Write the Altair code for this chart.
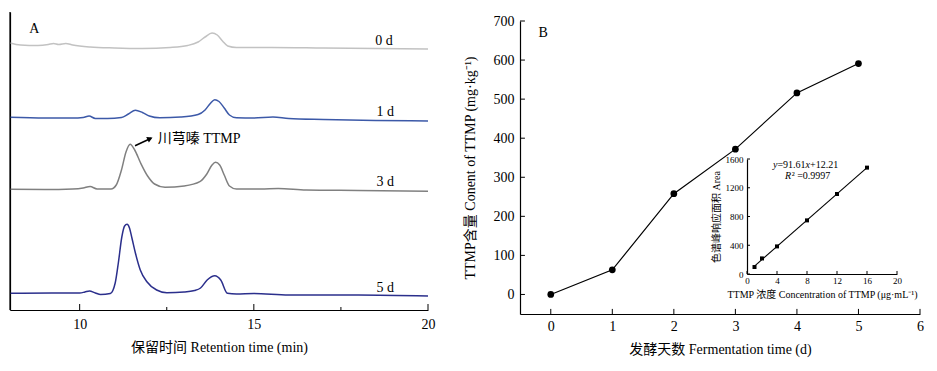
import altair as alt
import pandas as pd

FONT = "Liberation Serif, Noto Sans CJK SC"

# ---------------- Panel A: chromatograms ----------------
t_0d = [8.0, 8.3, 8.8, 9.1, 9.25, 9.4, 9.6, 9.8, 10.3, 11.0, 11.8, 12.6, 13.1, 13.4, 13.6, 13.8, 13.95, 14.1, 14.25, 14.5, 15.5, 17.0, 18.5, 20.0]
s_0d = [267, 265, 264.5, 265.5, 266.5, 265.5, 266.5, 265, 263, 262, 261.5, 262.5, 264.5, 268, 273, 277, 275, 269, 264, 262.5, 262.5, 262, 261.5, 261]

t_1d = [8.0, 9.0, 9.8, 10.1, 10.27, 10.45, 10.8, 11.2, 11.4, 11.6, 11.8, 12.0, 12.3, 12.9, 13.4, 13.6, 13.75, 13.88, 14.0, 14.15, 14.3, 14.5, 15.0, 15.55, 16.0, 17.0, 18.5, 20.0]
s_1d = [192.7, 192, 192, 192.5, 194, 191.5, 191.5, 192.5, 196, 199.7, 197.5, 194, 192.2, 193, 195.5, 200, 206.5, 210.3, 208.5, 202, 195, 192.2, 192, 193, 191.5, 190.5, 189.5, 189]

t_3d = [8.0, 9.0, 9.8, 10.1, 10.3, 10.5, 10.9, 11.05, 11.2, 11.33, 11.45, 11.58, 11.75, 11.95, 12.15, 12.45, 13.0, 13.45, 13.65, 13.8, 13.9, 14.02, 14.15, 14.3, 14.5, 15.2, 15.7, 16.5, 18.0, 20.0]
s_3d = [120.7, 120.5, 121, 122, 123.5, 121, 121, 125, 140, 158, 165.7, 160, 147, 134, 126, 122.7, 124, 128.3, 136, 145, 147.7, 145, 135, 124, 121, 121, 121.5, 120, 119.5, 118.7]

t_5d = [8.0, 9.2, 10.0, 10.15, 10.28, 10.45, 10.6, 10.88, 11.02, 11.11, 11.21, 11.29, 11.36, 11.43, 11.5, 11.6, 11.74, 11.93, 12.21, 12.5, 13.0, 13.3, 13.47, 13.66, 13.88, 14.05, 14.24, 14.5, 15.0, 16.0, 18.0, 20.0]
s_5d = [16.7, 17, 17, 18, 19, 17, 15.5, 16.5, 27, 47, 73, 84, 85.7, 82, 72, 57, 40, 28.3, 20, 17.3, 18, 19.5, 22, 30, 34.3, 30, 16.7, 16, 16.5, 15, 15, 14]

trace_names = ["0 d", "1 d", "3 d", "5 d"]
trace_colors = ["#c2c2c2", "#3c59a8", "#808080", "#2b2f8c"]
trace_label_t = [18.74, 18.77, 18.77, 18.77]
trace_label_s = [269, 198, 128, 22]

a_major_ticks = [10, 15, 20]
a_minor_ticks = [12.5, 17.5]
a_time_range = [8, 20]
a_signal_range = [0, 298]

# ---------------- Panel B: content vs time ----------------
days = [0, 1, 2, 3, 4, 5]
ttmp = [0, 63, 258, 372, 516, 591]
b_xticks = [0, 1, 2, 3, 4, 5, 6]
b_yticks = [0, 100, 200, 300, 400, 500, 600, 700]

# ---------------- Inset: standard curve ----------------
conc = [1, 2, 4, 8, 12, 16]
area = [97, 217, 384, 746, 1113, 1480]
i_xticks = [0, 4, 8, 12, 16, 20]
i_yticks = [0, 400, 800, 1200, 1600]

# ---------------- build tables ----------------
rows = []
for name, ts, ss in zip(trace_names, [t_0d, t_1d, t_3d, t_5d], [s_0d, s_1d, s_3d, s_5d]):
    for t, s in zip(ts, ss):
        rows.append({"trace": name, "t": t, "s": s})
dfA = pd.DataFrame(rows)

xA = alt.Scale(domain=a_time_range, range=[2, 420], nice=False, zero=False)
yA = alt.Scale(domain=a_signal_range, range=[302, 4], nice=False, zero=False)
axAx = alt.Axis(orient="bottom", values=a_major_ticks, ticks=False, labelPadding=7,
                title="保留时间 Retention time (min)", titlePadding=9, offset=-53, format="d")
axAy = alt.Axis(orient="left", labels=False, ticks=False, title=None, offset=-2)

def XA(f):
    return alt.X(f, scale=xA, axis=axAx)

def YA(f):
    return alt.Y(f, scale=yA, axis=axAy)

linesA = alt.Chart(dfA).mark_line(strokeWidth=1.5, interpolate="monotone").encode(
    x=XA("t:Q"), y=YA("s:Q"),
    color=alt.Color("trace:N", scale=alt.Scale(domain=trace_names, range=trace_colors), legend=None),
)

# left frame line of panel A
dfA_left = pd.DataFrame({"t": [a_time_range[0]], "s": [a_signal_range[0]], "s1": [a_signal_range[1]]})
leftA = alt.Chart(dfA_left).mark_rule(color="black", strokeWidth=1.2).encode(
    x=XA("t:Q"), y=YA("s:Q"), y2="s1:Q")

dfA_ticks = pd.DataFrame({"t": a_major_ticks + a_minor_ticks,
                          "s": [0] * 5, "s1": [6, 6, 6, 3, 3]})
ticksA = alt.Chart(dfA_ticks).mark_rule(color="black", strokeWidth=1).encode(
    x=XA("t:Q"), y=YA("s:Q"), y2="s1:Q")

dfA_lab = pd.DataFrame({"t": trace_label_t, "s": trace_label_s, "txt": trace_names})
labelsA = alt.Chart(dfA_lab).mark_text(fontSize=14, font=FONT, color="black").encode(
    x=XA("t:Q"), y=YA("s:Q"), text="txt:N")

dfA_misc = pd.DataFrame({"t": [8.55, 12.24], "s": [281, 171], "txt": ["A", "川芎嗪 TTMP"]})
miscA = alt.Chart(dfA_misc).mark_text(fontSize=14, font=FONT, color="black", align="left").encode(
    x=XA("t:Q"), y=YA("s:Q"), text="txt:N")

dfArrow = pd.DataFrame({"t": [11.59, 12.05], "s": [164.3, 171.8]})
arrowLine = alt.Chart(dfArrow).mark_line(color="black", strokeWidth=1.5).encode(
    x=XA("t:Q"), y=YA("s:Q"))
dfHead = pd.DataFrame({"t": [12.02], "s": [171.4]})
arrowHead = alt.Chart(dfHead).mark_point(shape="triangle-right", filled=True, color="black",
                                          size=40, angle=335, opacity=1).encode(
    x=XA("t:Q"), y=YA("s:Q"))

layerA = alt.layer(linesA, leftA, ticksA, labelsA, miscA, arrowLine, arrowHead)

# Panel B
dfB = pd.DataFrame({"day": days, "c": ttmp})
xB = alt.Scale(domain=[-0.5, 6], range=[512, 912], nice=False, zero=False)
yB = alt.Scale(domain=[-50, 700], range=[306, 13], nice=False, zero=False)
axBx = alt.Axis(orient="bottom", values=b_xticks, ticks=False, labelPadding=5,
                title="发酵天数 Fermentation time (d)", titlePadding=9, offset=-49)
axBy = alt.Axis(orient="left", values=b_yticks, ticks=False, labelPadding=6,
                title="TTMP含量 Conent of TTMP (mg·kg⁻¹)", titlePadding=16, offset=-512)

def XB(f):
    return alt.X(f, scale=xB, axis=axBx)

def YB(f):
    return alt.Y(f, scale=yB, axis=axBy)

lineB = alt.Chart(dfB).mark_line(color="black", strokeWidth=1.2).encode(x=XB("day:Q"), y=YB("c:Q"))
ptsB = alt.Chart(dfB).mark_circle(size=45, color="black", opacity=1).encode(x=XB("day:Q"), y=YB("c:Q"))

dfBxt = pd.DataFrame({"day": b_xticks, "c": -50, "c1": -37})
ticksBx = alt.Chart(dfBxt).mark_rule(color="black").encode(x=XB("day:Q"), y=YB("c:Q"), y2="c1:Q")
dfByt = pd.DataFrame({"c": b_yticks, "day": -0.5, "day1": -0.42})
ticksBy = alt.Chart(dfByt).mark_rule(color="black").encode(y=YB("c:Q"), x=XB("day:Q"), x2="day1:Q")
dfBlab = pd.DataFrame({"day": [-0.2], "c": [669], "txt": ["B"]})
labB = alt.Chart(dfBlab).mark_text(fontSize=14, font=FONT, color="black", align="left").encode(
    x=XB("day:Q"), y=YB("c:Q"), text="txt:N")

layerB = alt.layer(lineB, ptsB, ticksBx, ticksBy, labB)

# Inset
dfI = pd.DataFrame({"conc": conc, "area": area})
xI = alt.Scale(domain=[0, 20], range=[739, 889], nice=False, zero=False)
yI = alt.Scale(domain=[0, 1600], range=[266, 151], nice=False, zero=False)
axIx = alt.Axis(orient="bottom", values=i_xticks, ticks=False, labelPadding=2, labelFontSize=9,
                titleFontSize=10, titlePadding=4, format="d",
                title="TTMP 浓度 Concentration of TTMP (μg·mL⁻¹)", offset=-89)
axIy = alt.Axis(orient="left", values=i_yticks, ticks=False, labelPadding=4, labelFontSize=9,
                titleFontSize=10, titlePadding=4, format="d",
                title="色谱峰响应面积 Area", offset=-739)

def XI(f):
    return alt.X(f, scale=xI, axis=axIx)

def YI(f):
    return alt.Y(f, scale=yI, axis=axIy)

ptsI = alt.Chart(dfI).mark_square(size=16, color="black", opacity=1).encode(x=XI("conc:Q"), y=YI("area:Q"))
fitI = alt.Chart(dfI).transform_regression("conc", "area").mark_line(color="black", strokeWidth=1.1).encode(
    x=XI("conc:Q"), y=YI("area:Q"))

dfIxt = pd.DataFrame({"conc": i_xticks, "area": 0, "area1": 42})
ticksIx = alt.Chart(dfIxt).mark_rule(color="black").encode(x=XI("conc:Q"), y=YI("area:Q"), y2="area1:Q")
dfIyt = pd.DataFrame({"area": i_yticks, "conc": 0, "conc1": 0.4})
ticksIy = alt.Chart(dfIyt).mark_rule(color="black").encode(y=YI("area:Q"), x=XI("conc:Q"), x2="conc1:Q")

eq_it_x = [3.47, 7.8, 5.07]
eq_it_y = [1516, 1516, 1358]
eq_it_txt = ["y", "x", "R"]
eq_re_x = [4.05, 8.4, 5.96]
eq_re_y = [1516, 1516, 1358]
eq_re_txt = ["=91.61", "+12.21", "² =0.9997"]
dfEqIt = pd.DataFrame({"conc": eq_it_x, "area": eq_it_y, "txt": eq_it_txt})
dfEqRe = pd.DataFrame({"conc": eq_re_x, "area": eq_re_y, "txt": eq_re_txt})
eqIt = alt.Chart(dfEqIt).mark_text(fontSize=10, font=FONT, color="black", align="left", fontStyle="italic").encode(
    x=XI("conc:Q"), y=YI("area:Q"), text="txt:N")
eqRe = alt.Chart(dfEqRe).mark_text(fontSize=10, font=FONT, color="black", align="left").encode(
    x=XI("conc:Q"), y=YI("area:Q"), text="txt:N")

layerI = alt.layer(fitI, ptsI, ticksIx, ticksIy, eqIt, eqRe)

chart = alt.layer(layerA, layerB, layerI).resolve_scale(
    x="independent", y="independent"
).properties(
    width=921, height=355, autosize=alt.AutoSizeParams(type="none"), padding=0
).configure_view(stroke=None).configure_axis(
    labelFont=FONT, titleFont=FONT, labelFontSize=14, titleFontSize=14,
    titleFontWeight="normal", labelColor="black", titleColor="black",
    domainColor="black", domainWidth=1.2, grid=False, labelFlush=False
)

chart.save("out.html", embed_options={"renderer": "svg", "actions": False})
